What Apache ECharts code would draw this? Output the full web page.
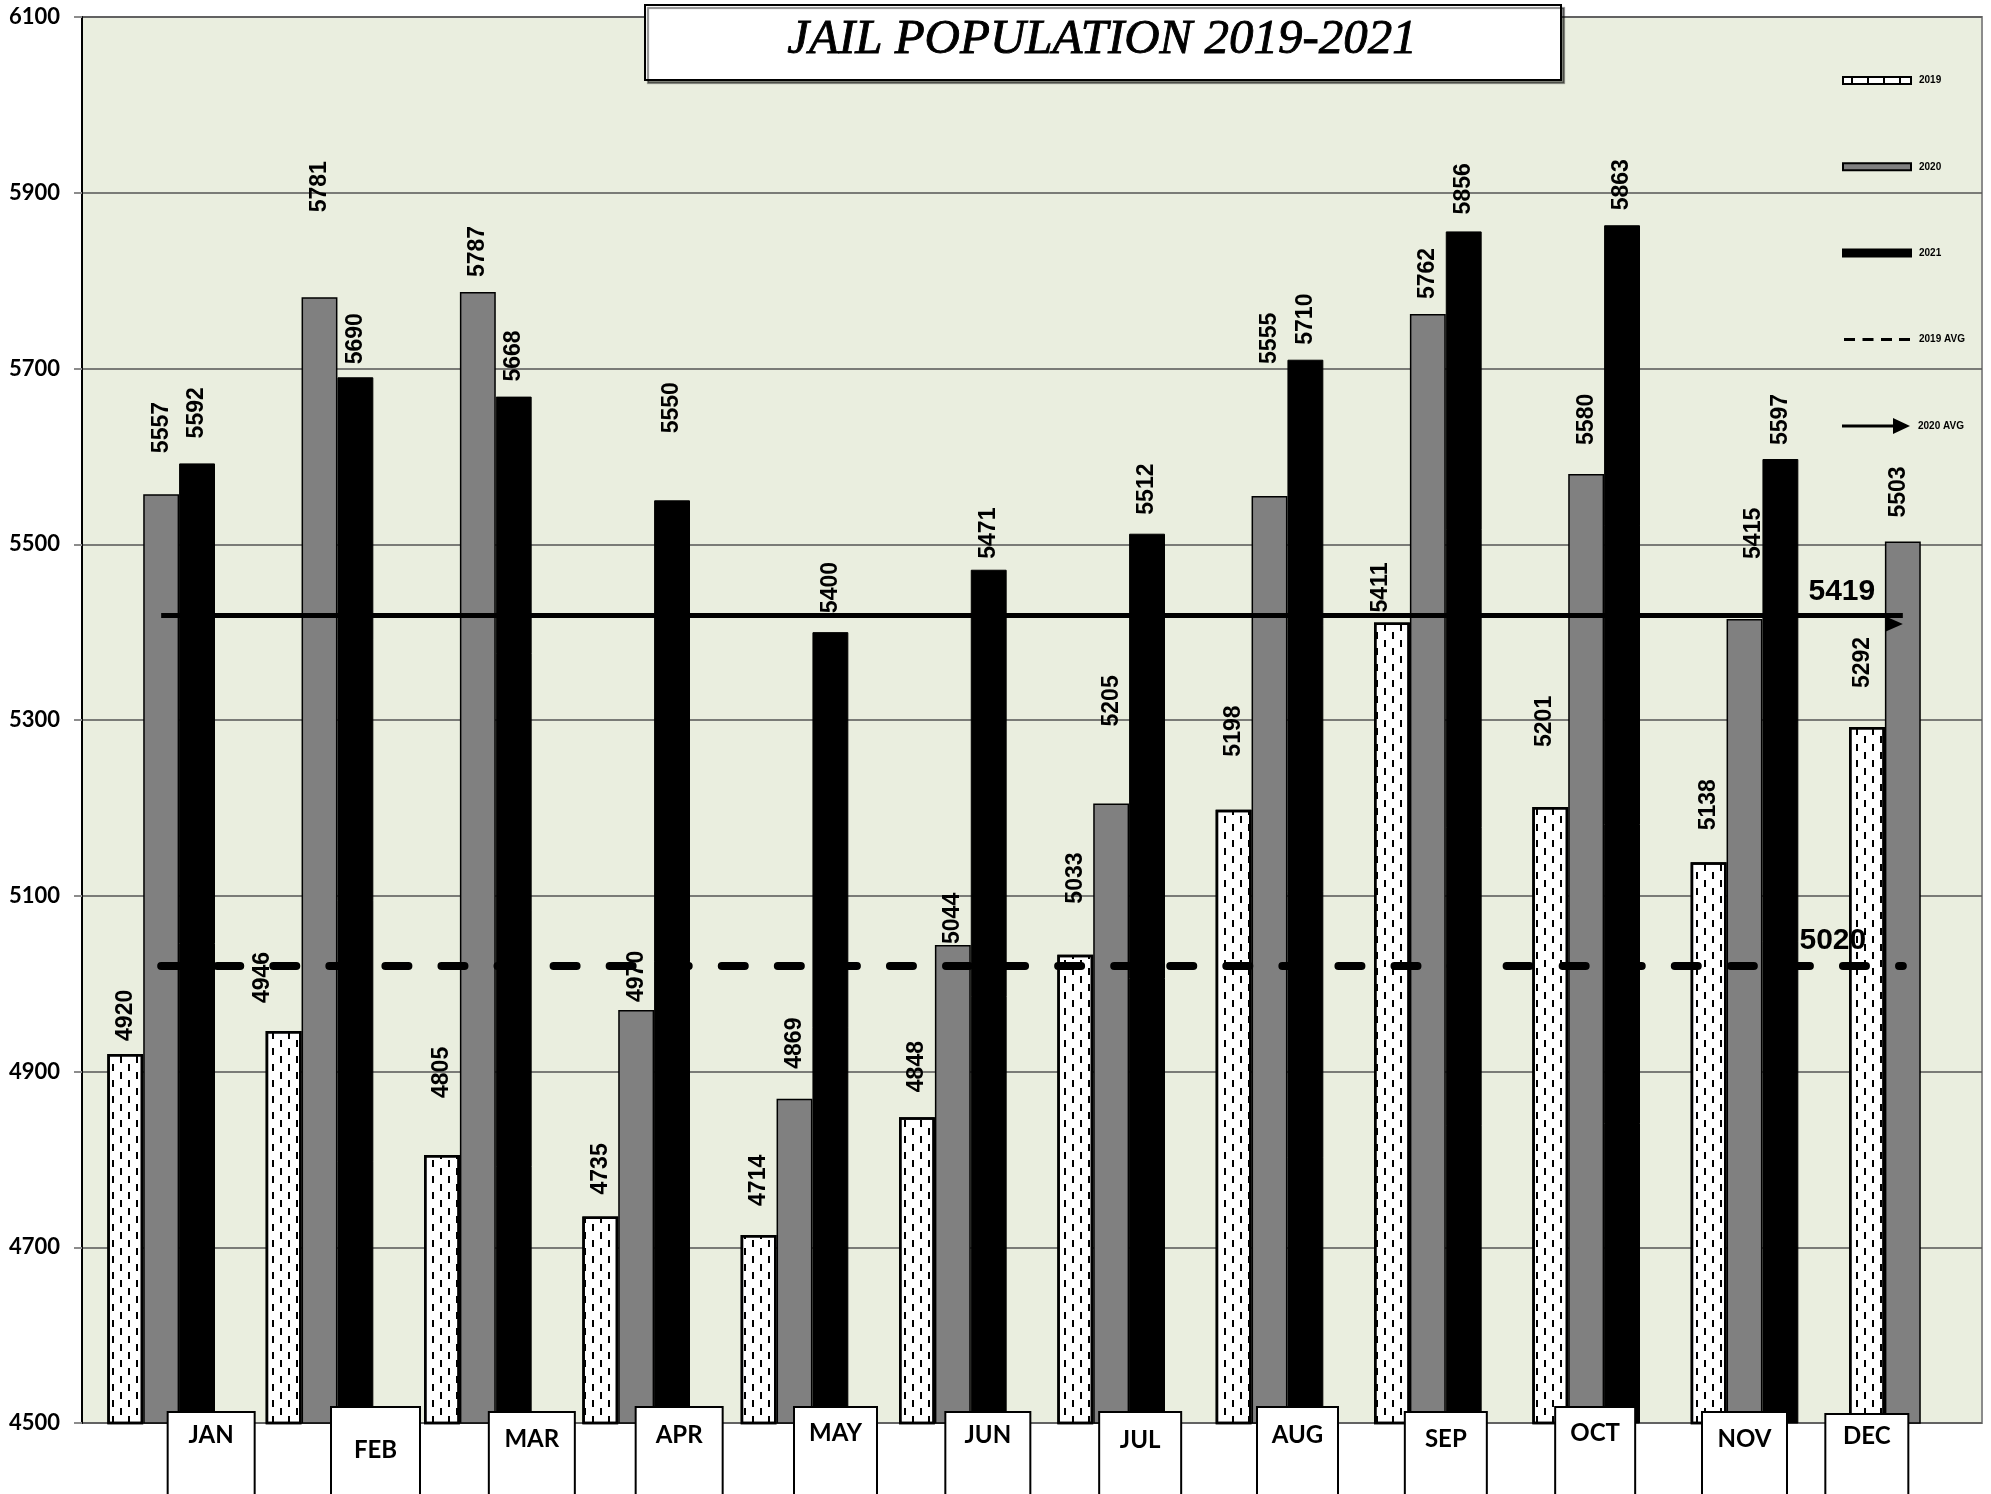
<!DOCTYPE html>
<html><head><meta charset="utf-8">
<script src="https://cdn.jsdelivr.net/npm/echarts@6/dist/echarts.min.js"></script>
<style>html,body{margin:0;padding:0;background:#fff}#c{width:1991px;height:1494px}</style>
</head><body><div id="c"></div>
<script>
// ---------------- data ----------------
const TITLE = 'JAIL POPULATION 2019-2021';
const MONTHS = ['JAN','FEB','MAR','APR','MAY','JUN','JUL','AUG','SEP','OCT','NOV','DEC'];
const POP_2019 = [4920,4946,4805,4735,4714,4848,5033,5198,5411,5201,5138,5292];
const POP_2020 = [5557,5781,5787,4970,4869,5044,5205,5555,5762,5580,5415,5503];
const POP_2021 = [5592,5690,5668,5550,5400,5471,5512,5710,5856,5863,5597];
const AVG_2019 = 5020;
const AVG_2020 = 5419;
const Y_TICKS = [4500,4700,4900,5100,5300,5500,5700,5900,6100];
const SERIES_NAMES = ['2019','2020','2021','2019 AVG','2020 AVG'];

// ---------------- layout (not data) ----------------
// gap between bar top and its rotated value label (px)
const GAP_2019 = [13,28,57,22,29,25,51,53,10,60,32,39];
const GAP_2020 = [41,85,15,8,30,1,77,132,15,29,60,24];
const GAP_2021 = [25,13,15,67,19,11,19,15,17,15,14];
// sideways nudge of some value labels (px, + = right)
const SHIFT_2019 = [0,-21,0,0,0,0,0,0,-11,-6,0,-4];
const SHIFT_2020 = [0,0,0,0,0,0,0,0,0,0,9,-4];
const SHIFT_2021 = [0,0,0,0,0,0,0,0,0,0,0];
// month label boxes: horizontal shift from tick, top offset, text centre offset, width
const BOX_DX  = [50,56,54,43,41,35,29,28,18,9,0,-36];
const BOX_TOP = [5,0,5,0,0,5,5,0,5,0,5,7];
const BOX_TXT = [22,42,26,27,25,22,27,27,26,25,26,21];
const BOX_W   = [85,87,84,85,81,83,80,79,80,78,83,81];
const LINE_H = 86;

const rich = {};
MONTHS.forEach((m, i) => {
  const total = LINE_H - BOX_TOP[i];
  const p0 = BOX_TXT[i] - 12;
  rich['b' + i] = {
    width: BOX_W[i], height: 24, lineHeight: LINE_H,
    padding: [p0, 0, total - p0 - 24, 0],
    verticalAlign: 'bottom',
    backgroundColor: '#fff', borderColor: '#000', borderWidth: 2,
    fontFamily: 'Lato', fontWeight: 'bold', fontSize: 24, color: '#000'
  };
  rich['s' + i] = { width: Math.abs(BOX_DX[i]) * 2, height: 10, lineHeight: LINE_H };
});
function monthLabel(value) {
  const i = MONTHS.indexOf(value);
  const dx = BOX_DX[i];
  if (dx > 0) return '{s' + i + '|}{b' + i + '|' + value + '}';
  if (dx < 0) return '{b' + i + '|' + value + '}{s' + i + '|}';
  return '{b' + i + '|' + value + '}';
}

const barLabel = {
  show: true, position: 'top', rotate: 90, align: 'left', verticalAlign: 'middle',
  fontFamily: 'Liberation Sans', fontWeight: 'bold', fontSize: 23, color: '#000'
};
function items(values, gaps, shifts) {
  // label is rotated 90deg: a sideways shift is along the label's local y
  return values.map((v, i) => ({ value: v, label: { distance: gaps[i], offset: [0, shifts[i]] } }));
}
const DASH_ICON = 'path://M0,0M68,7M1,2h11v3h-11zM19.5,2h11v3h-11zM38,2h11v3h-11zM56,2h11v3h-11z';
const ARROW_ICON = 'path://M0,0M68,18M0,7.5h52v3h-52zM51,1L68,9L51,17Z';
const avgFont = { fontFamily: 'Liberation Sans', fontWeight: 'bold', fontSize: 30, color: '#000' };
const legendText = { fontFamily: 'Liberation Sans', fontWeight: 'bold', fontSize: 10, color: '#000', lineHeight: 14, padding: [0,0,0,3] };

const chart = echarts.init(document.getElementById('c'), null, { renderer: 'canvas' });
chart.setOption({
  animation: false,
  backgroundColor: '#fff',
  title: {
    text: TITLE, left: 1102, top: 16, textAlign: 'center', padding: 0, z: 7,
    textStyle: { fontFamily: 'Liberation Serif', fontStyle: 'italic', fontWeight: 'normal', fontSize: 49, color: '#000',
      textBorderColor: '#000', textBorderWidth: 0.9 }
  },
  graphic: [{
    type: 'rect', left: 644, top: 4, z: 6,
    shape: { width: 916, height: 75 },
    style: { fill: '#fff', stroke: '#000', lineWidth: 2, shadowColor: 'rgba(0,0,0,0.45)', shadowOffsetX: 3, shadowOffsetY: 3, shadowBlur: 1 }
  }],
  legend: [{
    orient: 'vertical', left: 1842, top: 73.5, padding: 0, itemWidth: 68, itemHeight: 7, itemGap: 72.3,
    icon: 'rect', selectedMode: false, textStyle: legendText,
    data: [SERIES_NAMES[0], SERIES_NAMES[1], SERIES_NAMES[2],
      { name: SERIES_NAMES[3], icon: DASH_ICON, itemStyle: { color: '#000', borderWidth: 0 } }]
  }, {
    orient: 'vertical', left: 1842, top: 417, padding: 0, itemWidth: 68, itemHeight: 18,
    selectedMode: false, textStyle: legendText,
    data: [{ name: SERIES_NAMES[4], icon: ARROW_ICON, itemStyle: { color: '#000', borderWidth: 0 } }]
  }],
  grid: {
    left: 82, top: 17, right: 9, bottom: 71, show: true, containLabel: false, outerBoundsMode: 'none',
    backgroundColor: '#EAEEDF', borderColor: '#8c8c8c', borderWidth: 2
  },
  xAxis: {
    type: 'category', data: MONTHS, z: 5,
    axisLine: { show: false }, axisTick: { show: false }, splitLine: { show: false },
    axisLabel: { interval: 0, margin: -15, formatter: monthLabel, rich: rich }
  },
  yAxis: {
    type: 'value', min: Y_TICKS[0], max: Y_TICKS[Y_TICKS.length - 1], interval: Y_TICKS[1] - Y_TICKS[0],
    axisLine: { show: true, lineStyle: { color: '#000', width: 2 } },
    axisTick: { show: true, length: 8, lineStyle: { color: '#8c8c8c', width: 2 } },
    axisLabel: { margin: 22, fontFamily: 'Lato', fontWeight: 'bold', fontSize: 22, color: '#000',
      formatter: v => String(v) },
    splitLine: { lineStyle: { color: '#555', width: 1.5 } }
  },
  series: [{
    name: SERIES_NAMES[0], type: 'bar', barGap: '0%', barCategoryGap: '32%',
    data: items(POP_2019, GAP_2019, SHIFT_2019), label: barLabel,
    itemStyle: {
      color: '#fff', borderColor: '#000', borderWidth: 2.5,
      decal: { symbol: 'rect', symbolSize: 1, color: '#000', dashArrayX: [[2, 14], [0, 8, 2, 6]], dashArrayY: [7, 1], rotation: 0 }
    }
  }, {
    name: SERIES_NAMES[1], type: 'bar', barGap: '0%', barCategoryGap: '32%',
    data: items(POP_2020, GAP_2020, SHIFT_2020), label: barLabel,
    itemStyle: { color: '#808080', borderColor: '#000', borderWidth: 1.5 }
  }, {
    name: SERIES_NAMES[2], type: 'bar', barGap: '0%', barCategoryGap: '32%',
    data: items(POP_2021, GAP_2021, SHIFT_2021), label: barLabel,
    itemStyle: { color: '#000', borderColor: '#000', borderWidth: 1 }
  }, {
    name: SERIES_NAMES[3], type: 'line', data: [], z: 4,
    itemStyle: { color: '#000' }, lineStyle: { color: '#000', width: 8, type: [23, 33.06], cap: 'round' },
    markLine: {
      silent: true, symbol: ['none', 'none'], label: { show: false },
      lineStyle: { color: '#000', width: 8, type: [23, 33.06], cap: 'round' },
      data: [[{ coord: [0, AVG_2019] }, { coord: [MONTHS.length - 1, AVG_2019] }]]
    },
    markPoint: {
      silent: true, symbol: 'rect', symbolSize: 1, itemStyle: { color: 'rgba(0,0,0,0)' },
      label: Object.assign({ show: true, position: 'inside', offset: [-70, -25], formatter: '{c}' }, avgFont),
      data: [{ coord: [MONTHS.length - 1, AVG_2019], value: AVG_2019 }]
    }
  }, {
    name: SERIES_NAMES[4], type: 'line', data: [], z: 4,
    itemStyle: { color: '#000' }, lineStyle: { color: '#000', width: 5 },
    markLine: {
      silent: true, symbol: ['none', 'triangle'], symbolSize: [15, 17], symbolOffset: [0, 8.5],
      label: { show: false },
      lineStyle: { color: '#000', width: 5, type: 'solid' },
      data: [[{ coord: [0, AVG_2020] }, { coord: [MONTHS.length - 1, AVG_2020] }]]
    },
    markPoint: {
      silent: true, symbol: 'rect', symbolSize: 1, itemStyle: { color: 'rgba(0,0,0,0)' },
      label: Object.assign({ show: true, position: 'inside', offset: [-61, -24], formatter: '{c}' }, avgFont),
      data: [{ coord: [MONTHS.length - 1, AVG_2020], value: AVG_2020 }]
    }
  }]
});
</script>
</body></html>
